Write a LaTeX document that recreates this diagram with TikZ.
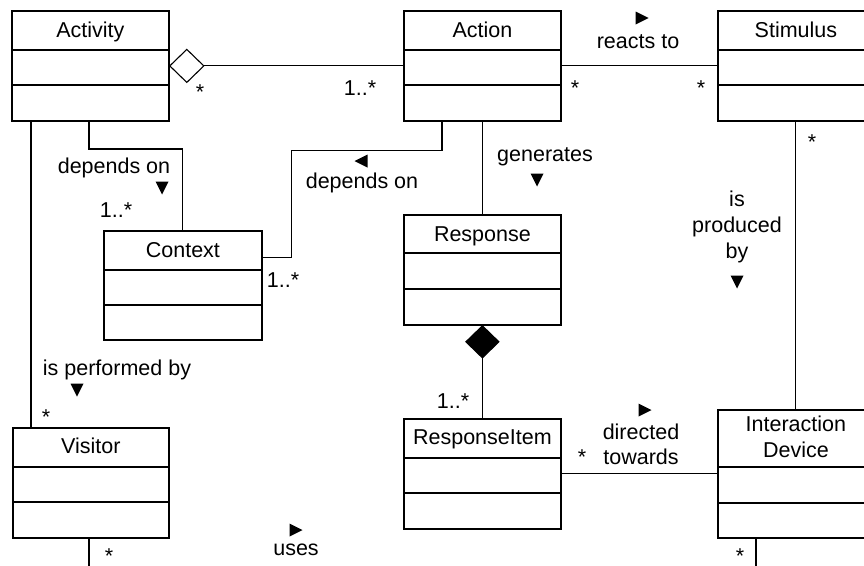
\documentclass[tikz,border=0pt]{standalone}
\usepackage{fontspec}
\setmainfont{Liberation Sans}
\usetikzlibrary{calc}
\tikzset{
  classframe/.style={draw, line width=1.8pt, inner sep=0pt, rectangle},
  classline/.style={line width=1.8pt},
  conn/.style={line width=1.1pt},
  lbl/.style={inner sep=0pt, anchor=base, font=\fontsize{21.5}{26}\selectfont},
  ttl/.style={inner sep=0pt, anchor=base, font=\fontsize{21.5}{26}\selectfont, align=center},
}
% name, x, y, width, height, head height, middle height
\newcommand\umlclass[7]{%
  \node[classframe, minimum width=#4pt, minimum height=#5pt, anchor=north west] (#1) at (#2,#3) {};
  \draw[classline] ($(#1.north west)+(0,#6)$) -- ($(#1.north east)+(0,#6)$);
  \draw[classline] ($(#1.north west)+(0,#6+#7)$) -- ($(#1.north east)+(0,#6+#7)$);
}
\newcommand\tridown[2]{\fill (#1-6.5,#2-6.5) -- (#1+6.5,#2-6.5) -- (#1,#2+6.5) -- cycle;}
\newcommand\triright[2]{\fill (#1-6.5,#2-6.5) -- (#1-6.5,#2+6.5) -- (#1+6.5,#2) -- cycle;}
\newcommand\trileft[2]{\fill (#1+6.5,#2-6.5) -- (#1+6.5,#2+6.5) -- (#1-6.5,#2) -- cycle;}
\begin{document}
\begin{tikzpicture}[x=1pt,y=-1pt]
\useasboundingbox (0,0) rectangle (864,565);
\clip (0,0) rectangle (864,565);
\fill[white] (0,0) rectangle (864,565);

% classes
\umlclass{activity}{11}{10}{157}{110}{40}{35}
\umlclass{action}{403}{10}{157}{110}{40}{35}
\umlclass{stimulus}{717}{10}{156}{110}{40}{35}
\umlclass{context}{103}{230}{158}{109}{40}{35}
\umlclass{response}{403}{214}{157}{110}{39}{36}
\umlclass{item}{403}{418}{157}{110}{40}{35}
\umlclass{visitor}{12}{427}{156}{110}{40}{35}
\umlclass{device}{717}{409}{156}{128}{58}{36}

\node[ttl] (activity-t) at ($(activity.north)+(0,27)$) {Activity};
\node[ttl] (action-t) at ($(action.north)+(0,27)$) {Action};
\node[ttl] (stimulus-t) at ($(stimulus.north)+(0,27)$) {Stimulus};
\node[ttl] (context-t) at ($(context.north)+(0,27)$) {Context};
\node[ttl] (response-t) at ($(response.north)+(0,27)$) {Response};
\node[ttl] (item-t) at ($(item.north)+(0,26)$) {ResponseItem};
\node[ttl] (visitor-t) at ($(visitor.north)+(0,26)$) {Visitor};
\node[ttl] (device-t) at ($(device.north)+(0,48)$) {Interaction\\Device};

% connectors
\draw[conn] (activity.east) -- ++(17,-16.5) -- ++(17,16.5) -- ++(-17,16.5) -- cycle;
\draw[conn] ($(activity.east)+(34,0)$) -- (action.west);
\draw[conn] (action.east) -- (stimulus.west);
\draw[conn] ($(activity.south west)+(78,0)$) |- ($(context.north)+(0,-81)$) -- (context.north);
\draw[conn] ($(action.south west)+(39,0)$) -- ++(0,29) -| ($(context.east)+(29,-27.5)$) -- ($(context.east)+(0,-27.5)$);
\draw[conn] (action.south) -- (response.north);
\filldraw[conn] (response.south) -- ++(16.5,16) -- ++(-16.5,16) -- ++(-16.5,-16) -- cycle;
\draw[conn] ($(response.south)+(0,32)$) -- (item.north);
\draw[conn] (stimulus.south) -- (device.north);
\draw[conn] (item.east) -- (item.east -| device.west);
\draw[conn] ($(activity.south west)+(20,0)$) -- ($(visitor.north west)+(19,0)$);
\coordinate (visitorend) at (89,575);
\coordinate (deviceend) at (756,575);
\draw[conn] ($(visitor.south west)+(77,0)$) -- (visitorend);
\draw[conn] ($(device.south west)+(39,0)$) -- (deviceend);

% labels
\node[lbl] (l1) at (114,173) {depends on};
\tridown{162}{188}
\node[lbl] (l2) at (116,217) {1..*};
\node[lbl] (l3) at (283,287) {1..*};
\node[lbl] (l4) at (117,375) {is performed by};
\tridown{77}{390}
\node[lbl] (l5) at (46,424) {*};
\node[lbl] (l6) at (109,563) {*};
\node[lbl] (l7) at (296,555) {uses};
\triright{296}{530}
\node[lbl] (l8) at (362,188) {depends on};
\trileft{361}{161}
\node[lbl] (l9) at (360,95) {1..*};
\node[lbl] (l10) at (200,99) {*};
\node[lbl] (l11) at (545,161) {generates};
\tridown{537}{180}
\node[lbl] (l12) at (638,48) {reacts to};
\triright{642}{18}
\node[lbl] (l13) at (575,95) {*};
\node[lbl] (l14) at (701,95) {*};
\node[lbl] (l15) at (812,149) {*};
\node[lbl] (l16) at (737,206) {is};
\node[lbl] (l17) at (737,232) {produced};
\node[lbl] (l18) at (737,258) {by};
\tridown{737}{282}
\node[lbl] (l19) at (641,439) {directed};
\node[lbl] (l20) at (641,464) {towards};
\triright{645}{410}
\node[lbl] (l21) at (582,464) {*};
\node[lbl] (l22) at (453,408) {1..*};
\node[lbl] (l23) at (740,563) {*};
\end{tikzpicture}
\end{document}
